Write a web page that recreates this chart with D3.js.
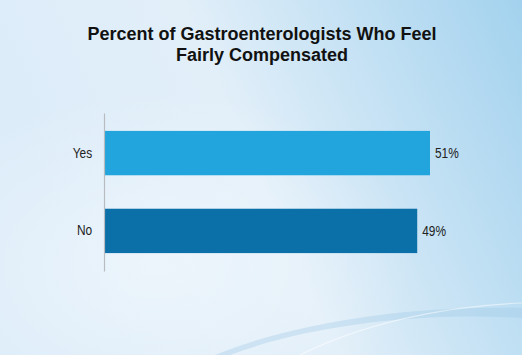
<!DOCTYPE html>
<html><head><meta charset="utf-8">
<script src="https://cdn.jsdelivr.net/npm/d3@7"></script>
<style>html,body{margin:0;padding:0;overflow:hidden}svg{display:block}</style>
</head><body>
<script>
const categories = ["Yes", "No"];
const values = [51, 49];
const valueLabels = ["51%", "49%"];
const barColors = ["#21a5dc", "#0b6fa8"];
const titleLines = ["Percent of Gastroenterologists Who Feel", "Fairly Compensated"];

const W = 522, H = 355;
const FONT = "Liberation Sans, Arial, sans-serif";
const svg = d3.select("body").append("svg").attr("width", W).attr("height", H);
const defs = svg.append("defs");
const lg = defs.append("linearGradient").attr("id","bg").attr("x1","0").attr("y1","0.3").attr("x2","1").attr("y2","0");
lg.append("stop").attr("offset","0").attr("stop-color","#dcecf9");
lg.append("stop").attr("offset","0.4").attr("stop-color","#e2eff9");
lg.append("stop").attr("offset","1").attr("stop-color","#a3d2ee");
svg.append("rect").attr("width",W).attr("height",H).attr("fill","url(#bg)");
const rg = defs.append("radialGradient").attr("id","glow").attr("cx","0.3").attr("cy","0.75").attr("r","0.5");
rg.append("stop").attr("offset","0").attr("stop-color","#ffffff").attr("stop-opacity",0.45);
rg.append("stop").attr("offset","1").attr("stop-color","#ffffff").attr("stop-opacity",0);
svg.append("rect").attr("width",W).attr("height",H).attr("fill","url(#glow)");
// swoosh
svg.append("path").attr("d","M215,355 C300,320 420,305 522,308 L522,318 C420,312 310,325 230,355 Z")
  .attr("fill","#9ec8e6").attr("opacity",0.35);
svg.append("path").attr("d","M300,355 C360,325 440,306 522,303")
  .attr("fill","none").attr("stroke","#ffffff").attr("stroke-width",1.2).attr("opacity",0.5);

svg.append("text").attr("text-anchor","middle")
  .attr("font-family",FONT).attr("font-weight","bold")
  .attr("font-size",18).attr("fill","#111")
  .selectAll("tspan").data(titleLines).join("tspan")
  .attr("x",262).attr("y",(d,i)=>40+i*21).text(d=>d);

const x = d3.scaleLinear().domain([0, 51]).range([104, 430]);
const y = d3.scaleBand().domain(categories).range([113, 271]).paddingInner(0.43).paddingOuter(0.23);

svg.selectAll("rect.bar").data(categories).join("rect").attr("class","bar")
  .attr("x", x(0)).attr("y", d=>y(d)).attr("height", y.bandwidth())
  .attr("width", (d,i)=>x(values[i]) - x(0)).attr("fill",(d,i)=>barColors[i]);

const ax = svg.append("g").attr("transform",`translate(${x(0)},0)`).call(d3.axisLeft(y).tickSize(0).tickPadding(14));
ax.select(".domain").attr("stroke","#b8bcc0").attr("stroke-width",1.2);
ax.selectAll("text").attr("font-family",FONT).attr("font-size",14).attr("fill","#222")
  .attr("transform","scale(0.85,1)");

svg.selectAll("text.val").data(categories).join("text").attr("class","val")
  .attr("transform",(d,i)=>`translate(${x(values[i])+5},${y(d)+y.bandwidth()/2}) scale(0.85,1)`)
  .attr("dy","0.35em")
  .attr("font-family",FONT).attr("font-size",14).attr("fill","#222")
  .text((d,i)=>valueLabels[i]);
</script>
</body></html>
